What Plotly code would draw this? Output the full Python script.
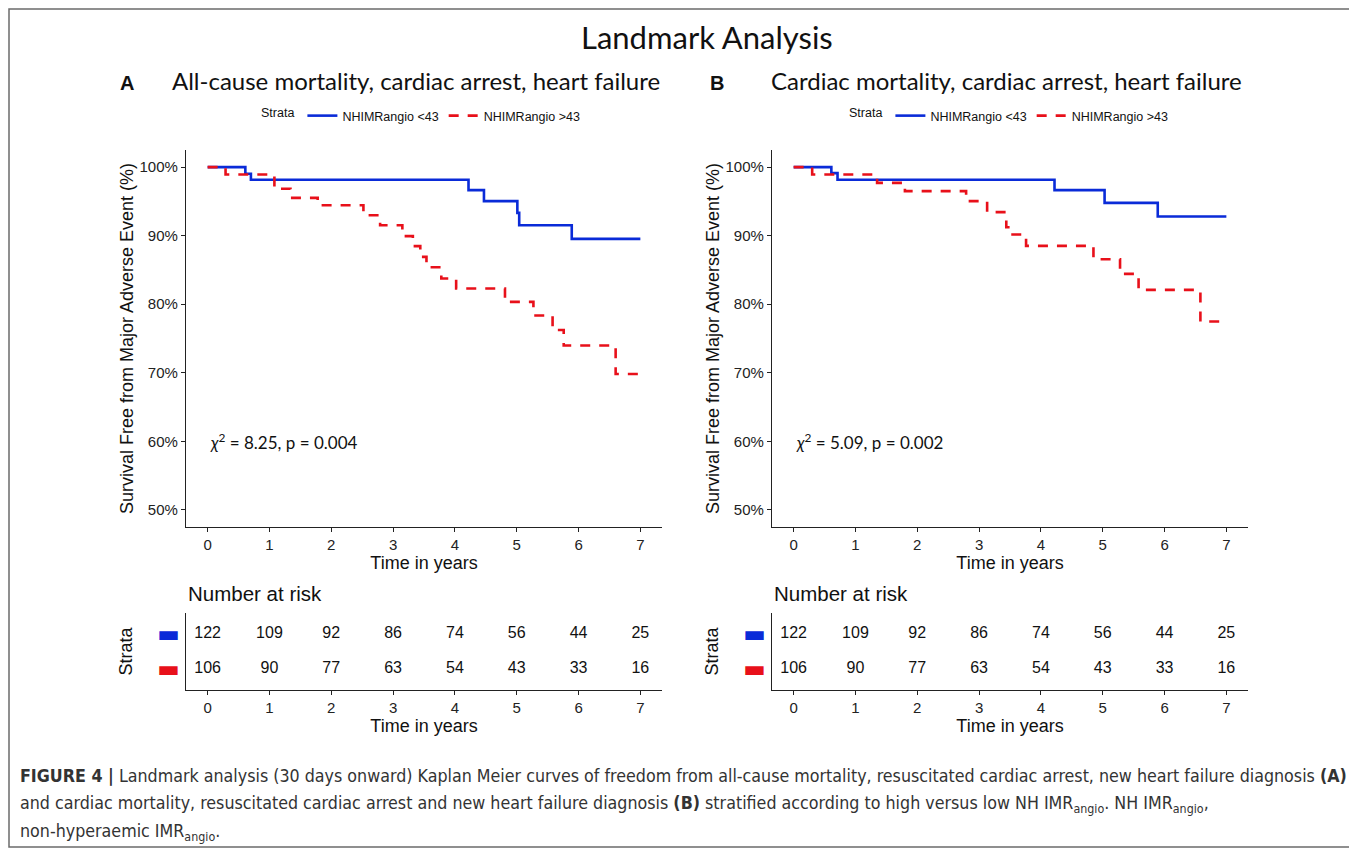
import plotly.graph_objects as go

# The page body has an 8px default margin; the figure fills the rest of the window.
OFF = 8
W, H = 1357 - OFF, 852 - OFF

# ---------------- data ----------------
time_ticks = [0, 1, 2, 3, 4, 5, 6, 7]
surv_ticks = [50, 60, 70, 80, 90, 100]
surv_tick_labels = ["50%", "60%", "70%", "80%", "90%", "100%"]

# Panel A: all-cause mortality, cardiac arrest, heart failure
a_low_t = [0, 0.61, 0.70, 4.22, 4.47, 5.01, 5.04, 5.89, 7.0]
a_low_s = [100, 99.03, 98.15, 96.64, 95.04, 93.33, 91.53, 89.54, 89.54]
a_high_t = [0, 0.29, 1.08, 1.34, 1.78, 2.52, 2.79, 3.15, 3.32, 3.44, 3.54, 3.78,
            4.02, 4.81, 5.27, 5.58, 5.76, 6.60, 7.0]
a_high_s = [100, 98.93, 96.84, 95.52, 94.45, 92.99, 91.53, 89.93, 88.47, 86.91,
            85.40, 83.75, 82.29, 80.34, 78.35, 76.25, 73.97, 69.83, 69.83]

# Panel B: cardiac mortality, cardiac arrest, heart failure
b_low_t = [0, 0.61, 0.71, 4.22, 5.03, 5.89, 7.0]
b_low_s = [100, 99.12, 98.15, 96.64, 94.79, 92.80, 92.80]
b_high_t = [0, 0.30, 1.35, 1.80, 2.79, 3.13, 3.44, 3.52, 3.76, 4.85, 5.28, 5.58, 6.58, 7.0]
b_high_s = [100, 98.93, 97.71, 96.50, 95.04, 93.43, 91.24, 90.17, 88.52, 86.57,
            84.43, 82.09, 77.47, 77.47]

risk_low = [122, 109, 92, 86, 74, 56, 44, 25]
risk_high = [106, 90, 77, 63, 54, 43, 33, 16]

chi_a = "8.25"
p_a = "0.004"
chi_b = "5.09"
p_b = "0.002"

name_low = "NHIMRangio &lt;43"
name_high = "NHIMRangio &gt;43"

# ---------------- styles ----------------
BLUE = "#0a2bd8"
RED = "#e8101a"
AX_FONT = "Liberation Sans, Arial, sans-serif"
TITLE_FONT = "Lato, Open Sans, sans-serif"
CAP_FONT = "DejaVu Sans Condensed, Liberation Sans, sans-serif"


def px(x):
    return (x - OFF) / W


def py(y):
    return 1 - (y - OFF) / H


fig = go.Figure()

panels = [
    dict(low_t=a_low_t, low_s=a_low_s, high_t=a_high_t, high_s=a_high_s,
         km="", risk="3", legend="legend", chi=chi_a, p=p_a),
    dict(low_t=b_low_t, low_s=b_low_s, high_t=b_high_t, high_s=b_high_s,
         km="2", risk="4", legend="legend2", chi=chi_b, p=p_b),
]

for pnl in panels:
    xa = "x" + pnl["km"]
    ya = "y" + pnl["km"]
    fig.add_trace(go.Scatter(x=pnl["low_t"], y=pnl["low_s"], mode="lines",
                             line=dict(shape="hv", color=BLUE, width=2.6),
                             name=name_low, legend=pnl["legend"],
                             xaxis=xa, yaxis=ya))
    fig.add_trace(go.Scatter(x=pnl["high_t"], y=pnl["high_s"], mode="lines",
                             line=dict(shape="hv", color=RED, width=2.6, dash="10px,9px"),
                             name=name_high, legend=pnl["legend"],
                             xaxis=xa, yaxis=ya))
    xr = "x" + pnl["risk"]
    yr = "y" + pnl["risk"]
    fig.add_trace(go.Scatter(x=time_ticks, y=[2] * len(time_ticks), mode="text",
                             text=[str(v) for v in risk_low],
                             textfont=dict(family=AX_FONT, size=16, color="#111"),
                             showlegend=False, xaxis=xr, yaxis=yr, hoverinfo="skip"))
    fig.add_trace(go.Scatter(x=time_ticks, y=[1] * len(time_ticks), mode="text",
                             text=[str(v) for v in risk_high],
                             textfont=dict(family=AX_FONT, size=16, color="#111"),
                             showlegend=False, xaxis=xr, yaxis=yr, hoverinfo="skip"))
    fig.add_annotation(x=0, y=60, xref=xa, yref=ya, xanchor="left", yanchor="middle",
                       text=f"<i>χ</i><sup>2</sup> = {pnl['chi']}, p = {pnl['p']}",
                       showarrow=False,
                       font=dict(family=TITLE_FONT, size=17, color="#111"))

km_x_domains = [[px(186), px(662)], [px(772), px(1248)]]
km_y_domain = [py(527), py(150)]
risk_y_domain = [py(690), py(613)]

common_x = dict(range=[-0.35, 7.35], tickvals=time_ticks, showline=True, linecolor="#222",
                linewidth=1.3, ticks="outside", ticklen=4, tickcolor="#222", showgrid=False,
                zeroline=False, tickfont=dict(family=AX_FONT, size=15, color="#222"),
                title=dict(text="Time in years", font=dict(family=AX_FONT, size=18, color="#111"),
                           standoff=2))

layout_axes = {}
for i, (km, rk) in enumerate([("", "3"), ("2", "4")]):
    layout_axes["xaxis" + km] = dict(common_x, domain=km_x_domains[i], anchor="y" + km)
    layout_axes["yaxis" + km] = dict(
        domain=km_y_domain, anchor="x" + km, range=[47.5, 102.5],
        tickvals=surv_ticks, ticktext=surv_tick_labels, showline=True, linecolor="#222",
        linewidth=1.3, ticks="outside", ticklen=4, tickcolor="#222", showgrid=False,
        zeroline=False, tickfont=dict(family=AX_FONT, size=15, color="#222"),
        title=dict(text="Survival Free from Major Adverse Event (%)",
                   font=dict(family=AX_FONT, size=18, color="#111"), standoff=1))
    layout_axes["xaxis" + rk] = dict(common_x, domain=km_x_domains[i], anchor="y" + rk)
    layout_axes["yaxis" + rk] = dict(
        domain=risk_y_domain, anchor="x" + rk, range=[0.4, 2.6],
        tickvals=[1, 2],
        ticktext=[f"<span style='color:{RED}'>▬</span>", f"<span style='color:{BLUE}'>▬</span>"],
        showline=True, linecolor="#222", linewidth=1.3, ticks="", showgrid=False,
        zeroline=False, tickfont=dict(family="DejaVu Sans", size=24),
        title=dict(text="Strata", font=dict(family=AX_FONT, size=18, color="#111"), standoff=20))

fig.update_layout(**layout_axes)

annotations = [
    dict(x=px(707), y=py(37), text="Landmark Analysis",
         font=dict(family=TITLE_FONT, size=31, color="#111"), xanchor="center"),
    dict(x=px(127), y=py(83), text="<b>A</b>",
         font=dict(family=AX_FONT, size=20, color="#111"), xanchor="center"),
    dict(x=px(717), y=py(83), text="<b>B</b>",
         font=dict(family=AX_FONT, size=20, color="#111"), xanchor="center"),
    dict(x=px(170), y=py(80), text="All-cause mortality, cardiac arrest, heart failure",
         font=dict(family=TITLE_FONT, size=24, color="#111"), xanchor="left"),
    dict(x=px(769), y=py(80), text="Cardiac mortality, cardiac arrest, heart failure",
         font=dict(family=TITLE_FONT, size=24, color="#111"), xanchor="left"),
    dict(x=px(186), y=py(593), text="Number at risk",
         font=dict(family=AX_FONT, size=20.5, color="#111"), xanchor="left"),
    dict(x=px(772), y=py(593), text="Number at risk",
         font=dict(family=AX_FONT, size=20.5, color="#111"), xanchor="left"),
    dict(x=px(18), y=py(776),
         text="<b>FIGURE 4 |</b> Landmark analysis (30 days onward) Kaplan Meier curves of freedom from "
              "all-cause mortality, resuscitated cardiac arrest, new heart failure diagnosis <b>(A)</b>",
         font=dict(family=CAP_FONT, size=17.7, color="#333"), xanchor="left"),
    dict(x=px(18), y=py(804),
         text="and cardiac mortality, resuscitated cardiac arrest and new heart failure diagnosis "
              "<b>(B)</b> stratified according to high versus low NH IMR<sub>angio</sub>. "
              "NH IMR<sub>angio</sub>,",
         font=dict(family=CAP_FONT, size=17.7, color="#333"), xanchor="left"),
    dict(x=px(18), y=py(832), text="non-hyperaemic IMR<sub>angio</sub>.",
         font=dict(family=CAP_FONT, size=17.7, color="#333"), xanchor="left"),
]
for a in annotations:
    a.update(xref="paper", yref="paper", yanchor="middle", showarrow=False)
    fig.add_annotation(**a)

fig.add_shape(type="rect", xref="paper", yref="paper", x0=px(9), x1=px(1351),
              y0=py(847), y1=py(9), line=dict(color="#6b6b6b", width=1.5))

legend_common = dict(orientation="h", yanchor="middle", y=py(116), xanchor="center",
                     title=dict(text="Strata", side="left",
                                font=dict(family=AX_FONT, size=12.5, color="#111")),
                     font=dict(family=AX_FONT, size=12.5, color="#111"),
                     bgcolor="rgba(0,0,0,0)", itemwidth=30)

fig.update_layout(
    width=W, height=H, autosize=False,
    margin=dict(l=0, r=0, t=0, b=0),
    paper_bgcolor="white", plot_bgcolor="white",
    legend=dict(legend_common, x=px(422)),
    legend2=dict(legend_common, x=px(1010)),
    showlegend=True,
)

fig.write_html("out.html")
